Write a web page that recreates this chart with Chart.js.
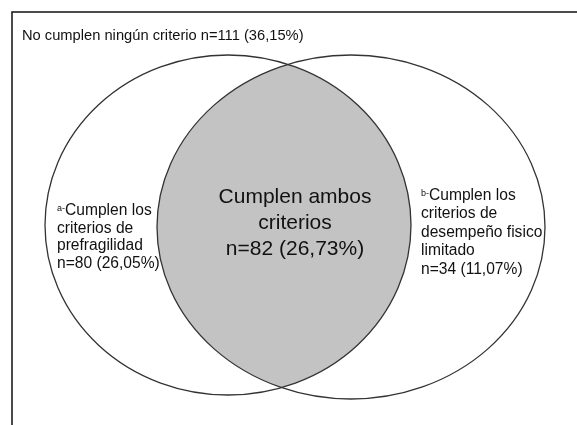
<!DOCTYPE html>
<html>
<head>
<meta charset="utf-8">
<script src="https://cdn.jsdelivr.net/npm/chart.js@4/dist/chart.umd.min.js"></script>
<style>
  body { margin: 0; background: #fff; }
  canvas { display: block; }
</style>
</head>
<body>
<canvas id="venn" width="577" height="425"></canvas>
<script>
// grupos del diagrama
const groups = ['ninguno', 'prefragilidad', 'ambos', 'desempeno'];
const counts = [111, 80, 82, 34];
const percents = ['36,15', '26,05', '26,73', '11,07'];
const labelLines = [
    ['No cumplen ningún criterio'],
    ['Cumplen los', 'criterios de', 'prefragilidad'],
    ['Cumplen ambos', 'criterios'],
    ['Cumplen los', 'criterios de', 'desempeño fisico', 'limitado']
];
const marks = ['', 'a-', '', 'b-'];

function nText(i){
    return 'n=' + counts[i] + ' (' + percents[i] + '%)';
}

// elipses (en unidades de la escala, 0..577 x 0..425)
const setA = {cx: 228, cy: 225, rx: 183, ry: 170};
const setB = {cx: 351, cy: 227, rx: 194, ry: 172};

const vennPlugin = {
    id: 'venn',
    afterDatasetsDraw: function(chart){
        const ctx = chart.ctx;
        const xs = chart.scales.x, ys = chart.scales.y;
        const px = v => xs.getPixelForValue(v);
        const py = v => ys.getPixelForValue(v);
        const ell = e => {
            ctx.beginPath();
            ctx.ellipse(px(e.cx), py(e.cy), Math.abs(px(e.cx + e.rx) - px(e.cx)), Math.abs(py(e.cy + e.ry) - py(e.cy)), 0, 0, Math.PI * 2);
        };
        ctx.save();

        // marco
        ctx.strokeStyle = '#111';
        ctx.lineWidth = 1.5;
        ctx.beginPath();
        ctx.moveTo(px(12), py(425));
        ctx.lineTo(px(12), py(12));
        ctx.lineTo(px(577), py(12));
        ctx.stroke();

        // interseccion
        ctx.save();
        ell(setA);
        ctx.clip();
        ell(setB);
        ctx.fillStyle = '#c3c3c3';
        ctx.fill();
        ctx.restore();

        ctx.strokeStyle = '#333';
        ctx.lineWidth = 1.3;
        ell(setA); ctx.stroke();
        ell(setB); ctx.stroke();

        ctx.fillStyle = '#111';
        ctx.textBaseline = 'alphabetic';
        const font = s => s + 'px "Liberation Sans", Arial, sans-serif';

        // titulo
        ctx.font = font(14.7);
        ctx.textAlign = 'left';
        ctx.fillText(labelLines[0][0] + ' ' + nText(0), px(22), py(40));

        // textos laterales
        const side = (i, x, y0, step) => {
            const lines = labelLines[i].concat([nText(i)]);
            lines.forEach((t, k) => {
                let x0 = px(x);
                if (k === 0 && marks[i]) {
                    ctx.font = font(9);
                    ctx.fillText(marks[i], x0, py(y0 - 4));
                    x0 += ctx.measureText(marks[i]).width;
                }
                ctx.font = font(15.6);
                ctx.fillText(t, x0, py(y0 + k * step));
            });
        };
        side(1, 57, 215, 17.5);
        side(3, 421, 199.5, 18.5);

        // centro
        ctx.textAlign = 'center';
        ctx.font = font(21);
        const mid = labelLines[2].concat([nText(2)]);
        mid.forEach((t, k) => ctx.fillText(t, px(295), py(203 + k * 26)));

        ctx.restore();
    }
};

new Chart(document.getElementById('venn'), {
    type: 'scatter',
    data: { labels: groups, datasets: [{ data: [] }] },
    options: {
        responsive: false,
        animation: false,
        events: [],
        layout: { padding: 0 },
        plugins: { legend: { display: false }, tooltip: { enabled: false } },
        scales: {
            x: { type: 'linear', min: 0, max: 577, display: false },
            y: { type: 'linear', min: 0, max: 425, reverse: true, display: false }
        }
    },
    plugins: [vennPlugin]
});
</script>
</body>
</html>
